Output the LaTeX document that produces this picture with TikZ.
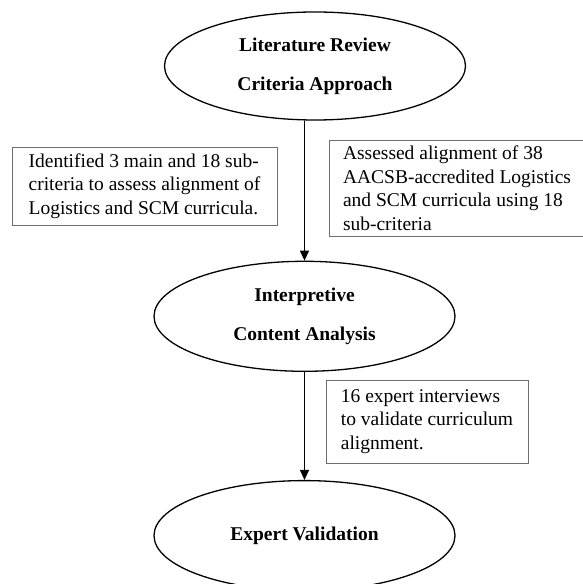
\documentclass[tikz,border=0pt]{standalone}
\usepackage{fontspec}
\setmainfont{Liberation Serif}
\usetikzlibrary{arrows.meta, positioning, shapes}
\usepackage{xcolor}
\definecolor{notegray}{HTML}{6E6E6E}

\begin{document}
\begin{tikzpicture}[
    x=1pt, y=1pt,
    font=\fontsize{19.5pt}{23.5pt}\selectfont,
    stage/.style={draw, ellipse, line width=1.3pt, inner sep=0pt,
                  minimum width=301pt, minimum height=110pt, align=center,
                  font=\fontsize{19.5pt}{39pt}\selectfont\bfseries},
    note/.style={draw=notegray, line width=0.9pt, align=left,
                 inner xsep=4pt, inner ysep=2pt},
    arr/.style={-{Triangle[length=10pt, width=9pt]}, line width=1pt},
  ]
    \useasboundingbox (0,0) rectangle (582,584);

    \node[stage, minimum height=108pt] (lit) at (315,518)
      {Literature Review\\Criteria Approach};
    \node[stage, below=140pt of lit, xshift=-10.5pt] (cont)
      {Interpretive\\Content Analysis};
    \node[stage, below=108pt of cont] (exp) {Expert Validation};

    \draw[arr] (lit.south -| cont.north) -- (cont.north);
    \draw[arr] (cont.south) -- (exp.north);

    % side notes
    \node[note, minimum width=265pt, minimum height=78pt] (crit) at (144.5,398)
      {Identified 3 main and 18 sub-\\criteria to assess alignment of\\Logistics and SCM curricula.};
    \node[note, minimum width=256pt, minimum height=96pt] (assess) at (457,396)
      {Assessed alignment of 38\\AACSB-accredited Logistics\\and SCM curricula using 18\\sub-criteria};
    \node[note, minimum width=202pt, minimum height=83pt] (intv) at (427,162.5)
      {16 expert interviews\\to validate curriculum\\alignment.};
  \end{tikzpicture}
\end{document}
